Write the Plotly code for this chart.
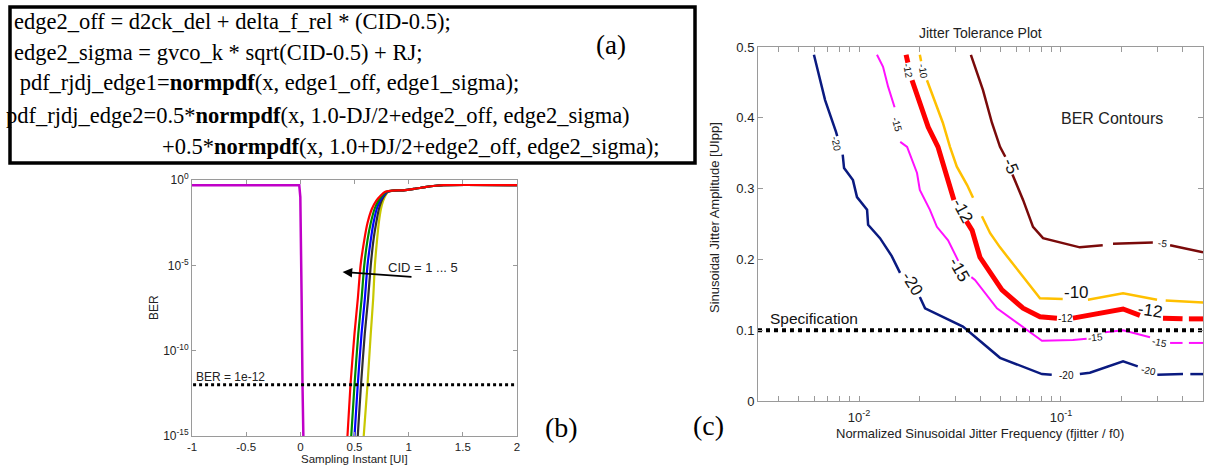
import numpy as np
import plotly.graph_objects as go

W, H = 1206, 466

# ---------------- (a) code text ----------------
code_lines = [
    "edge2_off = d2ck_del + delta_f_rel * (CID-0.5);",
    "edge2_sigma = gvco_k * sqrt(CID-0.5) + RJ;",
    " pdf_rjdj_edge1=<b>normpdf</b>(x, edge1_off, edge1_sigma);",
    "pdf_rjdj_edge2=0.5*<b>normpdf</b>(x, 1.0-DJ/2+edge2_off, edge2_sigma)",
    "+0.5*<b>normpdf</b>(x, 1.0+DJ/2+edge2_off, edge2_sigma);",
]

# ---------------- (b) BER vs sampling instant ----------------
b_edge1_x = [-1.0, -0.01, 0.0, 0.005, 0.012, 0.02, 0.028]
b_edge1_ber = [0.5, 0.5, 0.1, 1e-3, 1e-7, 1e-12, 1e-15]

b_ber_levels = [1e-15, 1e-12, 1e-9, 1e-7, 1e-5, 3e-4, 3e-3, 0.02, 0.06, 0.12, 0.2, 0.24, 0.25, 0.3, 0.38, 0.46, 0.5, 0.5]
b_cid_names = ["CID=1", "CID=2", "CID=3", "CID=4", "CID=5"]
b_cid_x = {
    "CID=1": [0.585, 0.62, 0.65, 0.672, 0.688, 0.708, 0.724, 0.744, 0.764, 0.785, 0.81, 0.86, 0.95, 1.05, 1.15, 1.25, 1.32, 2.0],
    "CID=2": [0.53, 0.56, 0.595, 0.625, 0.65, 0.675, 0.70, 0.725, 0.75, 0.775, 0.805, 0.86, 0.95, 1.05, 1.15, 1.25, 1.32, 2.0],
    "CID=3": [0.50, 0.53, 0.565, 0.595, 0.62, 0.65, 0.675, 0.705, 0.735, 0.765, 0.80, 0.86, 0.95, 1.05, 1.15, 1.25, 1.32, 2.0],
    "CID=4": [0.47, 0.50, 0.535, 0.565, 0.59, 0.62, 0.65, 0.685, 0.72, 0.755, 0.79, 0.85, 0.95, 1.05, 1.15, 1.25, 1.32, 2.0],
    "CID=5": [0.435, 0.463, 0.50, 0.53, 0.556, 0.59, 0.62, 0.66, 0.70, 0.74, 0.78, 0.85, 0.95, 1.05, 1.15, 1.25, 1.32, 2.0],
}
b_cid_colors = {"CID=1": "#c8c800", "CID=2": "#303030", "CID=3": "#0000ff", "CID=4": "#008a00", "CID=5": "#ff0000"}
b_target_ber = 1e-12
b_x_ticks = [-1, -0.5, 0, 0.5, 1, 1.5, 2]
b_x_ticktext = ["-1", "-0.5", "0", "0.5", "1", "1.5", "2"]
b_y_ticks = [1e-15, 1e-10, 1e-5, 1]
b_y_ticktext = ["10<sup>-15</sup>", "10<sup>-10</sup>", "10<sup>-5</sup>", "10<sup>0</sup>"]

# ---------------- (c) jitter tolerance contours ----------------
c_m20_f = [0.00598, 0.00679, 0.00769, 0.0078, None, 0.0083, 0.00843, 0.00933, 0.00977, 0.01096, 0.01109, 0.0127, 0.0145, 0.01596, None,
           0.0200, 0.02123, 0.0327, 0.0499, 0.0805, 0.090, None, 0.124, 0.139, 0.203, 0.24, None, 0.30, 0.402, None, 0.437, 0.505]
c_m20_a = [0.489, 0.425, 0.380, 0.374, None, 0.348, 0.329, 0.312, 0.288, 0.27, 0.249, 0.230, 0.205, 0.181, None,
           0.147, 0.131, 0.105, 0.061, 0.038, 0.037, None, 0.038, 0.040, 0.056, 0.049, None, 0.037, 0.038, None, 0.038, 0.038]
c_m15_f = [0.01227, 0.01315, 0.01393, 0.01500, None, 0.0160, 0.0173, 0.01937, 0.0200, 0.02244, 0.0243, 0.0276, 0.0310, None,
           0.0360, 0.0375, 0.0482, 0.0649, 0.0805, 0.1146, 0.134, None, 0.165, 0.203, 0.276, None, 0.347, 0.40, None, 0.43, 0.505]
c_m15_a = [0.489, 0.472, 0.444, 0.415, None, 0.366, 0.359, 0.322, 0.298, 0.270, 0.246, 0.227, 0.198, None,
           0.175, 0.171, 0.131, 0.105, 0.085, 0.086, 0.088, None, 0.097, 0.100, 0.090, None, 0.082, 0.082, None, 0.082, 0.082]
c_m12_f = [0.0171, 0.01745, None, 0.0183, 0.0207, 0.0220, 0.0246, 0.0260, 0.0276, 0.0295, None, 0.0340, 0.0363, 0.0397,
           0.0510, 0.0649, 0.0787, 0.0955, None, 0.1146, 0.203, 0.246, None, 0.32, 0.40, None, 0.43, 0.505]
c_m12_a = [0.489, 0.478, None, 0.453, 0.411, 0.387, 0.359, 0.336, 0.312, 0.284, None, 0.254, 0.241, 0.203,
           0.157, 0.131, 0.119, 0.117, None, 0.117, 0.130, 0.121, None, 0.117, 0.116, None, 0.116, 0.116]
c_m10_f = [0.0200, 0.0203, None, 0.0217, 0.0260, 0.0282, 0.0305, 0.0343, 0.0367, None, 0.0406, 0.0446, 0.0499,
           0.0649, 0.0787, 0.102, None, 0.136, 0.203, 0.299, None, 0.33, 0.505]
c_m10_a = [0.489, 0.480, None, 0.453, 0.393, 0.359, 0.331, 0.305, 0.287, None, 0.261, 0.237, 0.217,
           0.175, 0.145, 0.144, None, 0.143, 0.152, 0.143, None, 0.142, 0.139]
c_m5_f = [0.0358, 0.0411, 0.0455, 0.0499, 0.0530, None, 0.0575, 0.0649, 0.0727, 0.0815, 0.124, 0.161, None,
          0.181, 0.285, None, 0.347, 0.505]
c_m5_a = [0.489, 0.439, 0.393, 0.359, 0.345, None, 0.320, 0.284, 0.246, 0.230, 0.217, 0.220, None,
          0.222, 0.224, None, 0.220, 0.210]

c_contours = [
    ("-20", c_m20_f, c_m20_a, "#0a1a80", 2.5),
    ("-15", c_m15_f, c_m15_a, "#ff10ff", 2.0),
    ("-12", c_m12_f, c_m12_a, "#ff0000", 5.0),
    ("-10", c_m10_f, c_m10_a, "#ffc000", 2.5),
    ("-5", c_m5_f, c_m5_a, "#7a0a0a", 2.5),
]

# inline contour labels: text, frequency, amplitude, angle, size
c_lab_text = ["-20", "-20", "-20", "-20", "-15", "-15", "-15", "-15", "-12", "-12", "-12", "-12", "-10", "-10", "-5", "-5"]
c_lab_f = [0.00776, 0.0183, 0.107, 0.27, 0.01537, 0.0316, 0.148, 0.309, 0.0175, 0.0327, 0.1047, 0.276, 0.0207, 0.12, 0.056, 0.32]
c_lab_a = [0.363, 0.166, 0.036, 0.043, 0.390, 0.185, 0.089, 0.082, 0.467, 0.268, 0.116, 0.128, 0.465, 0.153, 0.332, 0.222]
c_lab_ang = [78, 58, 0, 12, 75, 60, -5, 12, 80, 62, 0, 8, 80, 0, 68, 8]
c_lab_size = [10, 17, 10, 10, 10, 17, 10, 10, 10, 17, 10, 17, 10, 17, 17, 10]

c_spec_amp = 0.1
c_x_range = [0.00316, 0.505]
c_x_ticks = [0.01, 0.1]
c_x_ticktext = ["10<sup>-2</sup>", "10<sup>-1</sup>"]
c_x_minor = [0.004, 0.005, 0.006, 0.007, 0.008, 0.009, 0.02, 0.03, 0.04, 0.05, 0.06, 0.07, 0.08, 0.09, 0.2, 0.3, 0.4, 0.5]
c_y_ticks = [0, 0.1, 0.2, 0.3, 0.4, 0.5]
c_y_ticktext = ["0", "0.1", "0.2", "0.3", "0.4", "0.5"]


def px(x):
    return x / W


def py(y):
    return 1 - y / H


SANS = "Liberation Sans"
SERIF = "Liberation Serif"

fig = go.Figure()

# (b) traces
fig.add_trace(go.Scatter(x=b_edge1_x, y=b_edge1_ber, mode="lines", line=dict(color="#c000c8", width=2.5),
                         xaxis="x", yaxis="y", showlegend=False))
for name in b_cid_names:
    fig.add_trace(go.Scatter(x=b_cid_x[name], y=b_ber_levels, mode="lines",
                             line=dict(color=b_cid_colors[name], width=2.2, shape="spline", smoothing=0.6),
                             xaxis="x", yaxis="y", showlegend=False))
fig.add_trace(go.Scatter(x=[-0.99, 2.0], y=[b_target_ber, b_target_ber], mode="lines",
                         line=dict(color="black", width=3, dash="dot"), xaxis="x", yaxis="y", showlegend=False))

# (c) traces
for lab, f, a, col, lw in c_contours:
    fig.add_trace(go.Scatter(x=f, y=a, mode="lines", line=dict(color=col, width=lw), connectgaps=False,
                             xaxis="x2", yaxis="y2", showlegend=False))
fig.add_trace(go.Scatter(x=c_x_range, y=[c_spec_amp, c_spec_amp], mode="lines",
                         line=dict(color="black", width=4, dash="dot"), xaxis="x2", yaxis="y2", showlegend=False))

axcommon = dict(showline=True, linecolor="#9a9a9a", linewidth=1, mirror="ticks", ticks="inside",
                tickcolor="#9a9a9a", showgrid=False, zeroline=False, automargin=False)

fig.update_layout(
    width=W, height=H, margin=dict(l=0, r=0, t=0, b=0, autoexpand=False),
    paper_bgcolor="white", plot_bgcolor="white",
    xaxis=dict(domain=[px(192), px(517)], anchor="y", range=[-1, 2], tickvals=b_x_ticks, ticktext=b_x_ticktext,
               ticklen=4, tickfont=dict(family=SANS, size=11.5, color="#222"), **axcommon),
    yaxis=dict(domain=[py(436), py(180)], anchor="x", type="log", range=[-15, 0], tickvals=b_y_ticks,
               ticktext=b_y_ticktext, ticklen=4, tickfont=dict(family=SANS, size=12, color="#222"), **axcommon),
    xaxis2=dict(domain=[px(758), px(1203)], anchor="y2", type="log",
                range=[np.log10(c_x_range[0]), np.log10(c_x_range[1])], tickvals=c_x_ticks, ticktext=c_x_ticktext,
                ticklen=5, ticklabelstandoff=4, tickfont=dict(family=SANS, size=13, color="#222"),
                minor=dict(tickvals=c_x_minor, ticks="inside", ticklen=5, tickcolor="#9a9a9a", showgrid=False),
                **axcommon),
    yaxis2=dict(domain=[py(401), py(47)], anchor="x2", range=[0, 0.5], tickvals=c_y_ticks, ticktext=c_y_ticktext,
                ticklen=5, tickfont=dict(family=SANS, size=13, color="#222"), **axcommon),
)

ann = []


def pann(text, x, y, size, family=SANS, color="#222", xanchor="center", angle=0):
    return dict(text=text, x=px(x), y=py(y), xref="paper", yref="paper", xanchor=xanchor, yanchor="middle",
                textangle=angle, showarrow=False, font=dict(family=family, size=size, color=color))


# (a) box + code text
fig.add_shape(type="rect", xref="paper", yref="paper", x0=px(10), x1=px(695), y0=py(163), y1=py(7),
              line=dict(color="black", width=3.5), fillcolor="rgba(0,0,0,0)")
code_pos = [(12, 21), (12, 52), (12, 83), (4, 115), (160, 146)]
for t, (x0, y0) in zip(code_lines, code_pos):
    ann.append(pann(t, x0, y0, 22.5, family=SERIF, color="black", xanchor="left"))
ann.append(pann("(a)", 611, 45, 27, family=SERIF, color="black"))

# (b) labels
ann.append(pann("BER", 154, 308, 12, angle=-90))
ann.append(pann("Sampling Instant [UI]", 354, 459, 11.5))
ann.append(dict(text="BER = 1e-12", x=-0.98, y=np.log10(b_target_ber) + 0.45, xref="x", yref="y", xanchor="left",
                yanchor="middle", showarrow=False, font=dict(family=SANS, size=12, color="#222")))
ann.append(dict(text="CID = 1 ... 5", x=0.79, y=-5.1, xref="x", yref="y", xanchor="left", yanchor="middle",
                showarrow=False, font=dict(family=SANS, size=13, color="#222")))
ann.append(dict(text="", x=0.39, y=-5.39, ax=1.04, ay=-5.68, xref="x", yref="y", axref="x", ayref="y",
                showarrow=True, arrowhead=2, arrowsize=1.2, arrowwidth=1.6, arrowcolor="black"))
ann.append(pann("(b)", 561, 427, 28, family=SERIF, color="black"))

# (c) labels
ann.append(pann("Jitter Tolerance Plot", 980, 33, 14))
ann.append(pann("Sinusoidal Jitter Amplitude [UIpp]", 714, 218, 13, angle=-90))
ann.append(pann("Normalized Sinusoidal Jitter Frequency (fjitter / f0)", 980, 433, 13))
ann.append(pann("BER Contours", 1112, 118, 16))
ann.append(dict(text="Specification", x=np.log10(0.00355), y=0.117, xref="x2", yref="y2", xanchor="left",
                yanchor="middle", showarrow=False, font=dict(family=SANS, size=15.5, color="#111")))
ann.append(pann("(c)", 708, 425, 28, family=SERIF, color="black"))
for t, f, a, ang, s in zip(c_lab_text, c_lab_f, c_lab_a, c_lab_ang, c_lab_size):
    ann.append(dict(text=t, x=np.log10(f), y=a, xref="x2", yref="y2", xanchor="center", yanchor="middle",
                    textangle=ang, showarrow=False, font=dict(family=SANS, size=s, color="#111")))

fig.update_layout(annotations=ann)
fig.write_html("out.html", config={"displayModeBar": False},
               post_script="document.body.style.margin='0';document.body.style.overflow='hidden';")
